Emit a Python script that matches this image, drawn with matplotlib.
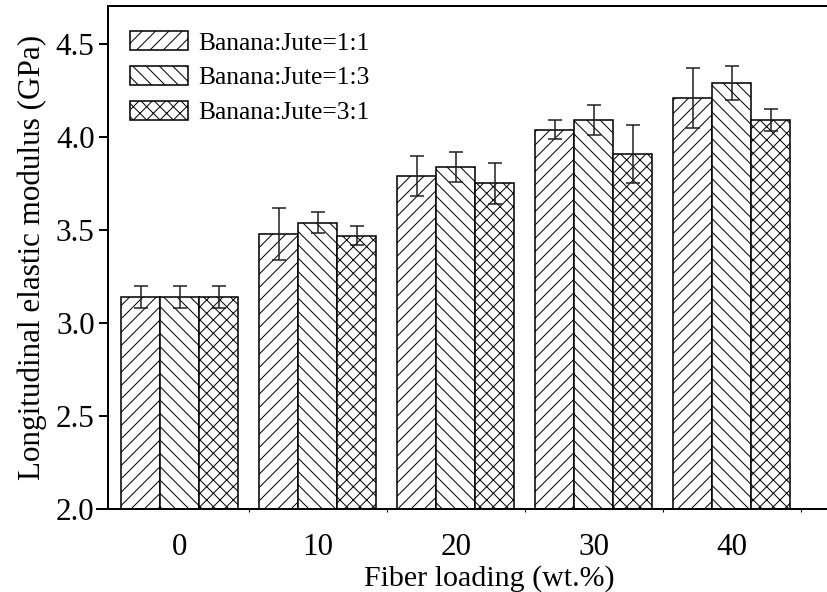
import numpy as np
import matplotlib.pyplot as plt

plt.rcParams['font.family'] = ['Liberation Serif', 'DejaVu Serif']
plt.rcParams['hatch.linewidth'] = 0.45

loading = [0, 10, 20, 30, 40]
series = ['Banana:Jute=1:1', 'Banana:Jute=1:3', 'Banana:Jute=3:1']
modulus_11 = [3.14, 3.48, 3.79, 4.04, 4.21]
modulus_13 = [3.14, 3.54, 3.84, 4.09, 4.29]
modulus_31 = [3.14, 3.47, 3.75, 3.91, 4.09]
err_11 = [0.06, 0.14, 0.11, 0.05, 0.16]
err_13 = [0.06, 0.055, 0.08, 0.08, 0.09]
err_31 = [0.06, 0.05, 0.11, 0.155, 0.06]
hatches = ['////', '\\\\\\\\', 'xxxx']

fig = plt.figure(figsize=(8.28 / 1.6, 5.92 / 1.6), dpi=160)
ax = fig.add_axes([0.1304, 0.1402, 0.92, 0.8497])

width = 2.83
x = np.array(loading, dtype=float)
values = [modulus_11, modulus_13, modulus_31]
errors = [err_11, err_13, err_31]
for i in range(3):
    ax.bar(x + (i - 1) * width, values[i], width, yerr=errors[i],
           color='white', edgecolor='black', linewidth=0.7, hatch=hatches[i],
           label=series[i],
           error_kw=dict(ecolor='#222222', elinewidth=0.7, capsize=3.2, capthick=0.7))

ax.set_xlim(-5.2, 50)
ax.set_ylim(2.0, 4.704)
ax.set_yticks([2.0, 2.5, 3.0, 3.5, 4.0, 4.5])
ax.set_yticklabels(['2.0', '2.5', '3.0', '3.5', '4.0', '4.5'])
ax.set_xticks(loading)
ax.set_xticks([5, 15, 25, 35, 45], minor=True)
ax.tick_params(axis='x', which='major', length=0, labelsize=14, pad=11)
ax.tick_params(axis='x', which='minor', length=1.5, width=0.5, direction='out')
ax.tick_params(axis='y', which='major', length=4, width=0.9, labelsize=14, direction='out', pad=2)

for side in ['left', 'bottom', 'top', 'right']:
    ax.spines[side].set_linewidth(0.9)
ax.spines['bottom'].set_bounds(-6.0, 50)

ax.set_xlabel('Fiber loading (wt.%)', fontsize=13.5, labelpad=1)
ax.set_ylabel('Longitudinal elastic modulus (GPa)', fontsize=14, labelpad=4)

leg = ax.legend(loc='upper left', bbox_to_anchor=(0.005, 0.985), frameon=False,
                fontsize=11.5, handlelength=2.3, handleheight=0.75,
                handletextpad=0.4, labelspacing=0.45, borderaxespad=0.3)

fig.savefig('out.png', dpi=160)
